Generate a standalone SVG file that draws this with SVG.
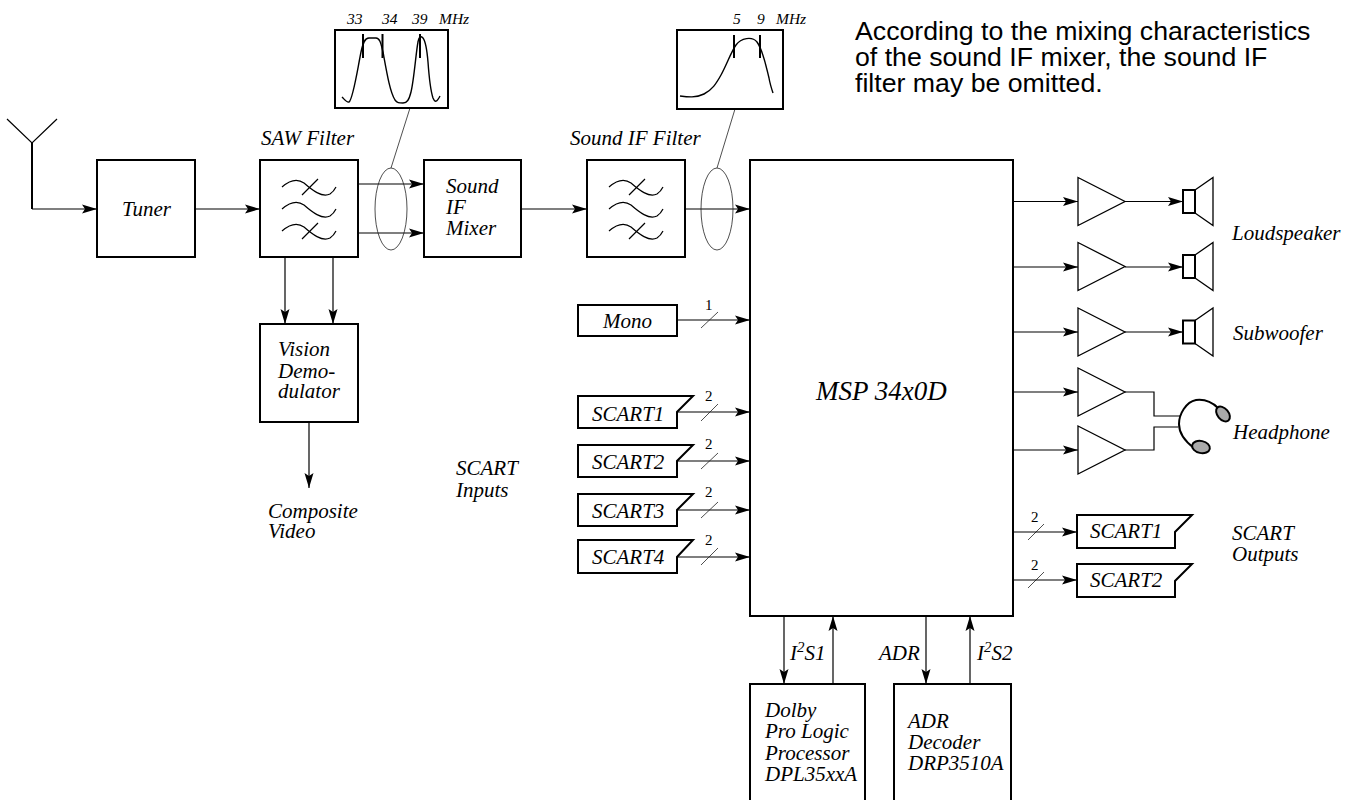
<svg xmlns="http://www.w3.org/2000/svg" xmlns:xlink="http://www.w3.org/1999/xlink" width="1359" height="800" viewBox="0 0 1359 800">
<style>
.b{fill:#fff;stroke:#000;stroke-width:2}
.n{fill:none;stroke:#000;stroke-width:1.2}
.w{fill:none;stroke:#000;stroke-width:1.2}
.t{fill:none;stroke:#000;stroke-width:1.3}
.g{fill:none;stroke:#000;stroke-width:1.4}
.h{fill:none;stroke:#000;stroke-width:2}
.s{fill:none;stroke:#222;stroke-width:.8}
text{font-family:"Liberation Serif",serif;font-style:italic;font-size:21px;fill:#000}
.sm{font-size:15.500px}
.d{font-style:normal;font-size:15px}
.big{font-size:27px}
.note{font-family:"Liberation Sans",sans-serif;font-style:normal;font-size:26.700px}
</style>
<defs>
<marker id="a" markerUnits="userSpaceOnUse" markerWidth="17" markerHeight="12" refX="16" refY="6" orient="auto"><path d="M16,6L1,1.500L4,6L1,10.500z" fill="#000"/></marker>
<g id="fil"><path class="w" d="M22,27C30,20 37,18 44,23C52,30 62,38 70,34C73,32 75,29 76,27M22,49C30,42 37,40 44,45C52,52 62,60 70,56C73,54 75,51 76,49M22,71C30,64 37,62 44,67C52,74 62,82 70,78C73,76 75,73 76,71M42,35L58,19M42,79L58,63"/></g>
<g id="amp"><path class="t" d="M0,-24L47,0L0,24z"/></g>
<g id="spk"><path class="h" d="M0,-11.500H12V11.500H0z"/><path class="t" d="M12,-11.500L30,-24V24L12,11.500"/></g>
</defs>

<g id="connectors">
<path class="n" d="M7,119L32,143L57,119"/>
<path class="h" d="M32,143V209"/>
<path class="n" d="M32,209H97" marker-end="url(#a)"/>
<path class="n" d="M195,209H260" marker-end="url(#a)"/>
<path class="n" d="M358,184H424" marker-end="url(#a)"/>
<path class="n" d="M358,233H424" marker-end="url(#a)"/>
<path class="n" d="M521,209H587" marker-end="url(#a)"/>
<path class="n" d="M685,209H750" marker-end="url(#a)"/>
<path class="n" d="M285,257V324" marker-end="url(#a)"/>
<path class="n" d="M333,257V324" marker-end="url(#a)"/>
<path class="n" d="M309,422V488" marker-end="url(#a)"/>
<path class="s" d="M410,108L391,168M735,109L717,168"/>
<ellipse class="s" cx="391" cy="209" rx="16" ry="41"/>
<ellipse class="s" cx="717" cy="209" rx="16" ry="41"/>
<path class="n" d="M677,320H750" marker-end="url(#a)"/>
<path class="n" d="M677,412H750" marker-end="url(#a)"/>
<path class="n" d="M677,461H750" marker-end="url(#a)"/>
<path class="n" d="M677,510H750" marker-end="url(#a)"/>
<path class="n" d="M677,557H750" marker-end="url(#a)"/>
<path class="s" d="M701,328L718,312M701,421L718,404M701,469L718,453M701,518L718,502M701,565L718,548M1028,540L1044,524M1028,588L1044,572"/>
<path class="n" d="M1013,201.500H1078" marker-end="url(#a)"/>
<path class="n" d="M1013,267H1078" marker-end="url(#a)"/>
<path class="n" d="M1013,332H1078" marker-end="url(#a)"/>
<path class="n" d="M1013,392H1078" marker-end="url(#a)"/>
<path class="n" d="M1013,450H1078" marker-end="url(#a)"/>
<path class="n" d="M1125,201.500H1183" marker-end="url(#a)"/>
<path class="n" d="M1125,267H1183" marker-end="url(#a)"/>
<path class="n" d="M1125,332H1183" marker-end="url(#a)"/>
<path class="n" d="M1125,392H1154V416H1180"/>
<path class="n" d="M1125,450H1154V427H1178"/>
<path class="n" d="M1013,532H1077" marker-end="url(#a)"/>
<path class="n" d="M1013,580H1077" marker-end="url(#a)"/>
<path class="n" d="M784,616V684" marker-end="url(#a)"/>
<path class="n" d="M833,684V616" marker-end="url(#a)"/>
<path class="n" d="M926,616V684" marker-end="url(#a)"/>
<path class="n" d="M970,684V616" marker-end="url(#a)"/>
</g>

<g id="tuner"><rect class="b" x="97" y="160" width="98" height="97"/><text x="122" y="216">Tuner</text></g>
<g id="saw-filter"><rect class="b" x="260" y="160" width="98" height="97"/><use xlink:href="#fil" href="#fil" x="260" y="160"/><text x="261" y="145">SAW Filter</text></g>
<g id="sound-if-mixer"><rect class="b" x="424" y="160" width="97" height="97"/><text x="446" y="193">Sound</text><text x="446" y="214">IF</text><text x="446" y="235">Mixer</text></g>
<g id="sound-if-filter"><rect class="b" x="587" y="160" width="98" height="97"/><use xlink:href="#fil" href="#fil" x="587" y="160"/><text x="570" y="145">Sound IF Filter</text></g>
<g id="response-1"><rect class="b" x="335" y="30" width="113" height="78"/>
<path class="g" d="M342,97C345,100 347,103 349,102C353,99 357,72 361,52C363,42 365,38 369,38H376C380,38 381,44 383,52C387,74 390,92 395,100C397,103 399,103 403,103C407,103 409,100 411,92C414,80 416,52 418,42C419,36 421,36 423,38C426,42 427,50 428,62C429,76 431,92 433,98C435,103 437,102 440,96"/>
<path class="h" d="M363,34V58M382.500,34V58M420,34V58"/>
<text class="sm" x="347" y="24">33</text><text class="sm" x="382" y="24">34</text><text class="sm" x="412" y="24">39</text><text class="sm" x="439" y="24">MHz</text></g>
<g id="response-2"><rect class="b" x="677" y="30" width="106" height="79"/>
<path class="g" d="M680,96C688,97 696,98 704,94C712,90 716,84 721,75C727,64 731,52 736,45C741,38 752,36 757,42C763,50 766,66 769,78C770,84 772,90 773,93"/>
<path class="h" d="M734,35V58M760,35V58"/>
<text class="sm" x="733" y="24">5</text><text class="sm" x="757" y="24">9</text><text class="sm" x="776" y="24">MHz</text></g>
<g id="vision-demodulator"><rect class="b" x="260" y="324" width="98" height="98"/><text x="278" y="356">Vision</text><text x="278" y="378">Demo-</text><text x="278" y="398">dulator</text></g>
<g id="composite-video"><text x="268" y="518">Composite</text><text x="268" y="538">Video</text></g>
<g id="msp"><rect class="b" x="750" y="160" width="263" height="456"/><text class="big" x="816" y="400">MSP 34x0D</text></g>
<g id="mono"><rect class="b" x="578" y="305" width="99" height="31"/><text x="603" y="328">Mono</text><text class="d" x="705" y="310">1</text></g>
<g id="scart-in-1"><path class="b" d="M578,396H693L677,412V428H578z"/><text x="592" y="421">SCART1</text><text class="d" x="705" y="401">2</text></g>
<g id="scart-in-2"><path class="b" d="M578,445H693L677,461V477H578z"/><text x="592" y="469">SCART2</text><text class="d" x="705" y="449">2</text></g>
<g id="scart-in-3"><path class="b" d="M578,494H693L677,510V526H578z"/><text x="592" y="518">SCART3</text><text class="d" x="705" y="497">2</text></g>
<g id="scart-in-4"><path class="b" d="M578,540H693L677,557V573H578z"/><text x="592" y="564">SCART4</text><text class="d" x="705" y="545">2</text></g>
<g id="scart-inputs"><text x="456" y="475">SCART</text><text x="456" y="497">Inputs</text></g>
<g id="amp-1"><use xlink:href="#amp" href="#amp" x="1078" y="201.500"/></g>
<g id="amp-2"><use xlink:href="#amp" href="#amp" x="1078" y="266.500"/></g>
<g id="amp-3"><use xlink:href="#amp" href="#amp" x="1078" y="332"/></g>
<g id="amp-4"><use xlink:href="#amp" href="#amp" x="1078" y="392"/></g>
<g id="amp-5"><use xlink:href="#amp" href="#amp" x="1078" y="450"/></g>
<g id="speaker-1"><use xlink:href="#spk" href="#spk" x="1183" y="201.500"/></g>
<g id="speaker-2"><use xlink:href="#spk" href="#spk" x="1183" y="266.500"/></g>
<g id="speaker-3"><use xlink:href="#spk" href="#spk" x="1183" y="332"/></g>
<g id="labels-out"><text x="1232" y="240">Loudspeaker</text><text x="1233" y="340">Subwoofer</text><text x="1233" y="439">Headphone</text></g>
<g id="headphone"><path class="h" d="M1218,408C1212,402 1204,399 1196,400C1186,402 1179,414 1179,424C1179,435 1186,442 1194,448"/>
<ellipse cx="1223" cy="414" rx="8.500" ry="5.500" transform="rotate(50 1223 414)" fill="#aaa" stroke="#000" stroke-width="2"/>
<ellipse cx="1201" cy="447" rx="9" ry="6" transform="rotate(12 1201 447)" fill="#aaa" stroke="#000" stroke-width="2"/></g>
<g id="scart-out-1"><path class="b" d="M1077,515H1192L1175,532V548H1077z"/><text x="1090" y="538">SCART1</text><text class="d" x="1031" y="522">2</text></g>
<g id="scart-out-2"><path class="b" d="M1077,564H1192L1175,581V597H1077z"/><text x="1090" y="587">SCART2</text><text class="d" x="1031" y="570">2</text></g>
<g id="scart-outputs"><text x="1232" y="540">SCART</text><text x="1232" y="561">Outputs</text></g>
<g id="bus-labels"><text x="790" y="660">I<tspan dy="-8" font-size="15">2</tspan><tspan dy="8">S1</tspan></text><text x="879" y="660">ADR</text><text x="977" y="660">I<tspan dy="-8" font-size="15">2</tspan><tspan dy="8">S2</tspan></text></g>
<g id="dolby"><rect class="b" x="750" y="684" width="115" height="120"/><text x="765" y="717">Dolby</text><text x="765" y="738">Pro Logic</text><text x="765" y="760">Processor</text><text x="765" y="781">DPL35xxA</text></g>
<g id="adr"><rect class="b" x="894" y="684" width="117" height="120"/><text x="908" y="728">ADR</text><text x="908" y="749">Decoder</text><text x="908" y="770">DRP3510A</text></g>
<g id="note"><text class="note" x="855" y="40">According to the mixing characteristics</text><text class="note" x="855" y="66">of the sound IF mixer, the sound IF</text><text class="note" x="855" y="92">filter may be omitted.</text></g>
</svg>
